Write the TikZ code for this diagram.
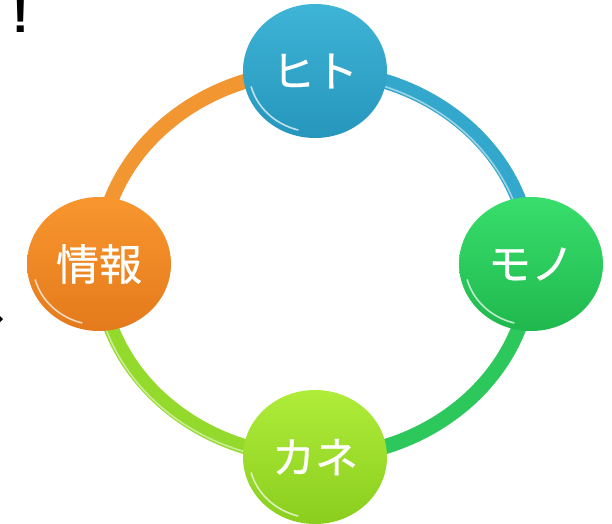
\documentclass[tikz,border=0pt]{standalone}
\usepackage{fontspec}
\newfontfamily\jpfont[FakeBold=0.6]{Noto Sans CJK JP}
\newfontfamily\bangfont{Liberation Sans}
\usetikzlibrary{shapes.geometric}
\definecolor{blueTop}{RGB}{62,180,214}
\definecolor{blueBot}{RGB}{38,150,188}
\definecolor{greenTop}{RGB}{56,222,108}
\definecolor{greenBot}{RGB}{32,184,78}
\definecolor{ygTop}{RGB}{176,236,58}
\definecolor{ygBot}{RGB}{138,206,30}
\definecolor{orTop}{RGB}{248,150,46}
\definecolor{orBot}{RGB}{228,122,28}
\definecolor{orArc}{RGB}{242,150,50}
\definecolor{blArc}{RGB}{52,168,204}
\definecolor{grArc}{RGB}{44,200,92}
\definecolor{ygArc}{RGB}{148,218,44}
\tikzset{
  disc/.style={ellipse, minimum width=144pt, minimum height=134pt, inner sep=0pt,
    text=white, font=\jpfont\fontsize{43}{43}\selectfont},
  ringarc/.style={line width=15pt},
  arcglow/.style={white, opacity=0.5, line width=1.6pt},
  rimglow/.style={white, opacity=0.7, line width=1.6pt, line cap=round},
}
\begin{document}
\begin{tikzpicture}[x=1pt,y=1pt]
\useasboundingbox (0,0) rectangle (612,523);
\fill[white] (0,0) rectangle (612,523);
% ring anchor points
\coordinate (T) at (315,452);
\coordinate (R) at (531,259);
\coordinate (B) at (315,66);
\coordinate (L) at (99,259);
% ring arcs
\draw[ringarc, orArc] (L) .. controls ([yshift=106.6]L) and ([xshift=-119.3]T) .. (T);
\draw[ringarc, blArc] (T) .. controls ([xshift=119.3]T) and ([yshift=106.6]R) .. (R);
\draw[ringarc, grArc] (R) .. controls ([yshift=-106.6]R) and ([xshift=119.3]B) .. (B);
\draw[ringarc, ygArc] (B) .. controls ([xshift=-119.3]B) and ([yshift=-106.6]L) .. (L);
% arc highlights
\draw[arcglow] ([shift={(-4,-4)}]T) .. controls ([shift={(115.3,-4)}]T) and ([shift={(-4,102.6)}]R) .. ([shift={(-4,-4)}]R);
\draw[arcglow] ([shift={(-4,-4)}]B) .. controls ([shift={(-123.3,-4)}]B) and ([shift={(-4,-110.6)}]L) .. ([shift={(-4,-4)}]L);
% discs
\node[disc, top color=blueTop, bottom color=blueBot] (hito) at (T) {ヒト};
\node[disc, top color=greenTop, bottom color=greenBot] (mono) at (R) {モノ};
\node[disc, top color=ygTop, bottom color=ygBot] (kane) at (B) {カネ};
\node[disc, top color=orTop, bottom color=orBot] (joho) at (L) {情報};
% rim highlights
\foreach \n in {hito,mono,kane,joho}{
  \draw[rimglow] (\n.center) ++(195:66 and 61) arc[start angle=195, end angle=255, x radius=66, y radius=61];
}
% stray marks at the left edge (cut off by the frame, as in the reference)
\node[anchor=base, inner sep=0pt, font=\bangfont\bfseries\fontsize{50}{50}\selectfont] (bang) at (21,490) {!};
\fill (0,201) -- (3,204) -- (0,207) -- cycle;
\end{tikzpicture}
\end{document}
